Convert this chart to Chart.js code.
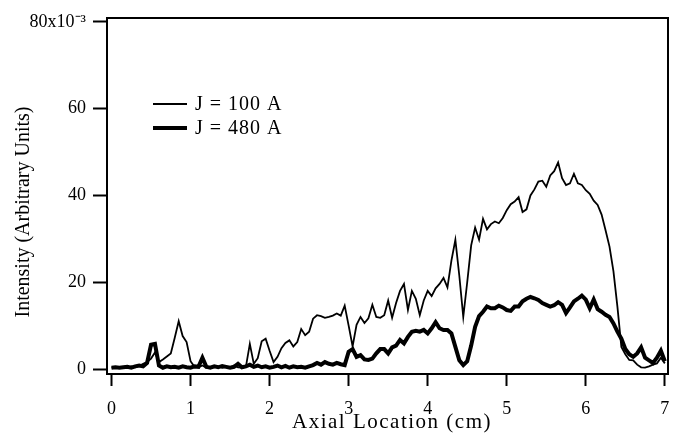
<!DOCTYPE html>
<html>
<head>
<meta charset="utf-8">
<script src="https://cdn.jsdelivr.net/npm/chart.js@4.4.1/dist/chart.umd.min.js"></script>
<style>
  html, body { margin: 0; padding: 0; background: #fff; }
</style>
</head>
<body>
<canvas id="intensityChart" width="676" height="438"></canvas>
<script>
// axial position (cm)
const axialCm = [
  0.00, 0.05, 0.10, 0.15, 0.20, 0.25, 0.30, 0.35, 0.40, 0.45,
  0.50, 0.55, 0.60, 0.65, 0.70, 0.75, 0.80, 0.85, 0.90, 0.95,
  1.00, 1.05, 1.10, 1.15, 1.20, 1.25, 1.30, 1.35, 1.40, 1.45,
  1.50, 1.55, 1.60, 1.65, 1.70, 1.75, 1.80, 1.85, 1.90, 1.95,
  2.00, 2.05, 2.10, 2.15, 2.20, 2.25, 2.30, 2.35, 2.40, 2.45,
  2.50, 2.55, 2.60, 2.65, 2.70, 2.75, 2.80, 2.85, 2.90, 2.95,
  3.00, 3.05, 3.10, 3.15, 3.20, 3.25, 3.30, 3.35, 3.40, 3.45,
  3.50, 3.55, 3.60, 3.65, 3.70, 3.75, 3.80, 3.85, 3.90, 3.95,
  4.00, 4.05, 4.10, 4.15, 4.20, 4.25, 4.30, 4.35, 4.40, 4.45,
  4.50, 4.55, 4.60, 4.65, 4.70, 4.75, 4.80, 4.85, 4.90, 4.95,
  5.00, 5.05, 5.10, 5.15, 5.20, 5.25, 5.30, 5.35, 5.40, 5.45,
  5.50, 5.55, 5.60, 5.65, 5.70, 5.75, 5.80, 5.85, 5.90, 5.95,
  6.00, 6.05, 6.10, 6.15, 6.20, 6.25, 6.30, 6.35, 6.40, 6.45,
  6.50, 6.55, 6.60, 6.65, 6.70, 6.75, 6.80, 6.85, 6.90, 6.95,
  7.00
];

// intensity x10^-3, J = 100 A
const intensity100 = [
  0.3, 0.4, 0.3, 0.5, 0.3, 0.6, 0.4, 0.7, 1.2, 1.6,
  2.4, 3.8, 1.6, 2.2, 2.9, 3.6, 7.2, 11.0, 7.6, 6.2,
  1.8, 0.5, 0.4, 0.8, 0.3, 0.5, 0.4, 0.6, 0.3, 0.5,
  0.4, 0.8, 0.4, 0.3, 0.5, 5.8, 1.2, 2.5, 6.4, 7.0,
  4.2, 1.6, 2.8, 4.8, 6.0, 6.6, 5.2, 6.2, 9.2, 7.8,
  8.6, 11.6, 12.4, 12.2, 11.8, 12.0, 12.3, 12.8, 12.3, 14.6,
  10.0, 5.2, 10.2, 12.0, 10.6, 11.7, 14.8, 12.0, 11.8, 12.4,
  15.8, 11.8, 15.2, 18.0, 19.6, 13.6, 18.0, 16.2, 12.4, 15.8,
  18.0, 16.8, 18.6, 19.6, 21.0, 18.8, 25.0, 29.8, 21.5, 12.0,
  20.0, 28.5, 32.6, 29.8, 34.6, 32.2, 33.4, 34.0, 33.6, 34.8,
  36.6, 38.0, 38.6, 39.6, 36.2, 36.8, 40.0, 41.4, 43.2, 43.4,
  42.0, 44.6, 45.6, 47.6, 44.0, 42.4, 42.8, 45.0, 42.8, 42.4,
  41.2, 40.4, 38.8, 37.8, 35.6, 32.0, 28.2, 22.5, 14.4, 5.1,
  3.4, 2.1, 2.0, 1.0, 0.4, 0.3, 0.6, 1.0, 1.3, 2.6,
  1.3
];

// intensity x10^-3, J = 480 A
const intensity480 = [
  0.3, 0.4, 0.3, 0.4, 0.5, 0.3, 0.6, 0.8, 0.6, 1.4,
  5.6, 5.8, 0.8, 0.3, 0.6, 0.4, 0.5, 0.3, 0.6, 0.4,
  0.3, 0.6, 0.5, 2.6, 0.5, 0.3, 0.6, 0.4, 0.7, 0.5,
  0.3, 0.5, 1.2, 0.4, 0.6, 1.0, 0.5, 0.8, 0.4, 0.6,
  0.3, 0.5, 0.8, 0.4, 0.7, 0.3, 0.6, 0.4, 0.5, 0.3,
  0.6, 0.9, 1.4, 1.0, 1.6, 1.2, 1.0, 1.4, 1.1, 0.9,
  4.0, 4.6, 2.8, 3.2, 2.2, 2.1, 2.4, 3.6, 4.6, 4.6,
  3.6, 5.0, 5.4, 6.7, 5.9, 7.4, 8.6, 8.8, 8.6, 9.0,
  8.2, 9.4, 10.8, 9.4, 9.0, 9.0, 8.2, 5.1, 2.0, 0.9,
  1.8, 5.4, 9.7, 12.2, 13.2, 14.4, 14.0, 14.0, 14.6, 14.2,
  13.6, 13.4, 14.4, 14.4, 15.6, 16.2, 16.6, 16.3, 15.9, 15.2,
  14.8, 14.4, 14.7, 15.4, 14.8, 12.9, 14.2, 15.6, 16.2, 16.9,
  16.0, 14.0, 16.0, 13.8, 13.2, 12.5, 12.0, 10.5, 8.6, 7.0,
  4.6, 3.4, 2.8, 3.6, 5.0, 2.6, 2.0, 1.4, 2.6, 4.2,
  1.8
];

const xTicks = [0, 1, 2, 3, 4, 5, 6, 7];
const yTicks = [0, 20, 40, 60, 80];
const seriesNames = ['J = 100 A', 'J = 480 A'];

const serif = "'Liberation Serif', 'Times New Roman', serif";

function toPoints(ys) {
  return axialCm.map((x, i) => ({ x: x, y: ys[i] }));
}

// frame, axis titles and the in-plot legend
const decorations = {
  id: 'decorations',
  afterDatasetsDraw(chart) {
    const { ctx, chartArea } = chart;
    ctx.save();
    ctx.strokeStyle = '#000';
    ctx.lineWidth = 2;
    ctx.strokeRect(chartArea.left, chartArea.top,
      chartArea.right - chartArea.left, chartArea.bottom - chartArea.top);

    ctx.fillStyle = '#000';
    ctx.textAlign = 'center';
    ctx.textBaseline = 'middle';
    ctx.font = '21px ' + serif;
    ctx.letterSpacing = '1.5px';
    ctx.fillText('Axial Location (cm)', 392, 422);

    ctx.letterSpacing = '0px';
    ctx.font = '20px ' + serif;
    ctx.save();
    ctx.translate(24, 212);
    ctx.rotate(-Math.PI / 2);
    ctx.fillText('Intensity (Arbitrary Units)', 0, 0);
    ctx.restore();

    // legend
    ctx.textAlign = 'left';
    ctx.font = '20px ' + serif;
    ctx.letterSpacing = '1px';
    chart.data.datasets.forEach((ds, i) => {
      const y = 104 + i * 24;
      ctx.beginPath();
      ctx.lineWidth = ds.borderWidth;
      ctx.strokeStyle = ds.borderColor;
      ctx.moveTo(153, y);
      ctx.lineTo(187, y);
      ctx.stroke();
      ctx.fillText(ds.label, 195, y + 1);
    });
    ctx.restore();
  }
};

const intensityChart = new Chart(document.getElementById('intensityChart'), {
  type: 'line',
  data: {
    datasets: [
      {
        label: seriesNames[0],
        data: toPoints(intensity100),
        borderColor: '#000',
        borderWidth: 1.8,
        pointRadius: 0,
        tension: 0,
        fill: false
      },
      {
        label: seriesNames[1],
        data: toPoints(intensity480),
        borderColor: '#000',
        borderWidth: 4,
        pointRadius: 0,
        tension: 0,
        fill: false
      }
    ]
  },
  options: {
    responsive: false,
    animation: false,
    layout: { padding: { left: 0, right: 8, top: 18, bottom: 0 } },
    plugins: {
      legend: { display: false },
      tooltip: { enabled: false }
    },
    scales: {
      x: {
        type: 'linear',
        min: -0.057,
        max: 7.04,
        afterBuildTicks(scale) { scale.ticks = xTicks.map(v => ({ value: v })); },
        afterFit(scale) {
          scale.height = 64;
          scale.paddingLeft = 0;
          scale.paddingRight = 0;
        },
        border: { display: true, color: '#000', width: 2 },
        grid: { drawOnChartArea: false, drawTicks: true, tickLength: 12, tickWidth: 2, tickColor: '#000' },
        ticks: { color: '#000', font: { family: serif, size: 18 }, padding: 12, maxRotation: 0 }
      },
      y: {
        type: 'linear',
        min: -1.15,
        max: 80.9,
        afterBuildTicks(scale) { scale.ticks = yTicks.map(v => ({ value: v })); },
        afterFit(scale) { scale.width = 107; },
        border: { display: true, color: '#000', width: 2 },
        grid: { drawOnChartArea: false, drawTicks: true, tickLength: 14, tickWidth: 2, tickColor: '#000' },
        ticks: {
          color: '#000',
          font: { family: serif, size: 18 },
          padding: 7,
          callback: v => (v === 80 ? '80x10\u207B\u00B3' : String(v))
        }
      }
    }
  },
  plugins: [decorations]
});
</script>
</body>
</html>
